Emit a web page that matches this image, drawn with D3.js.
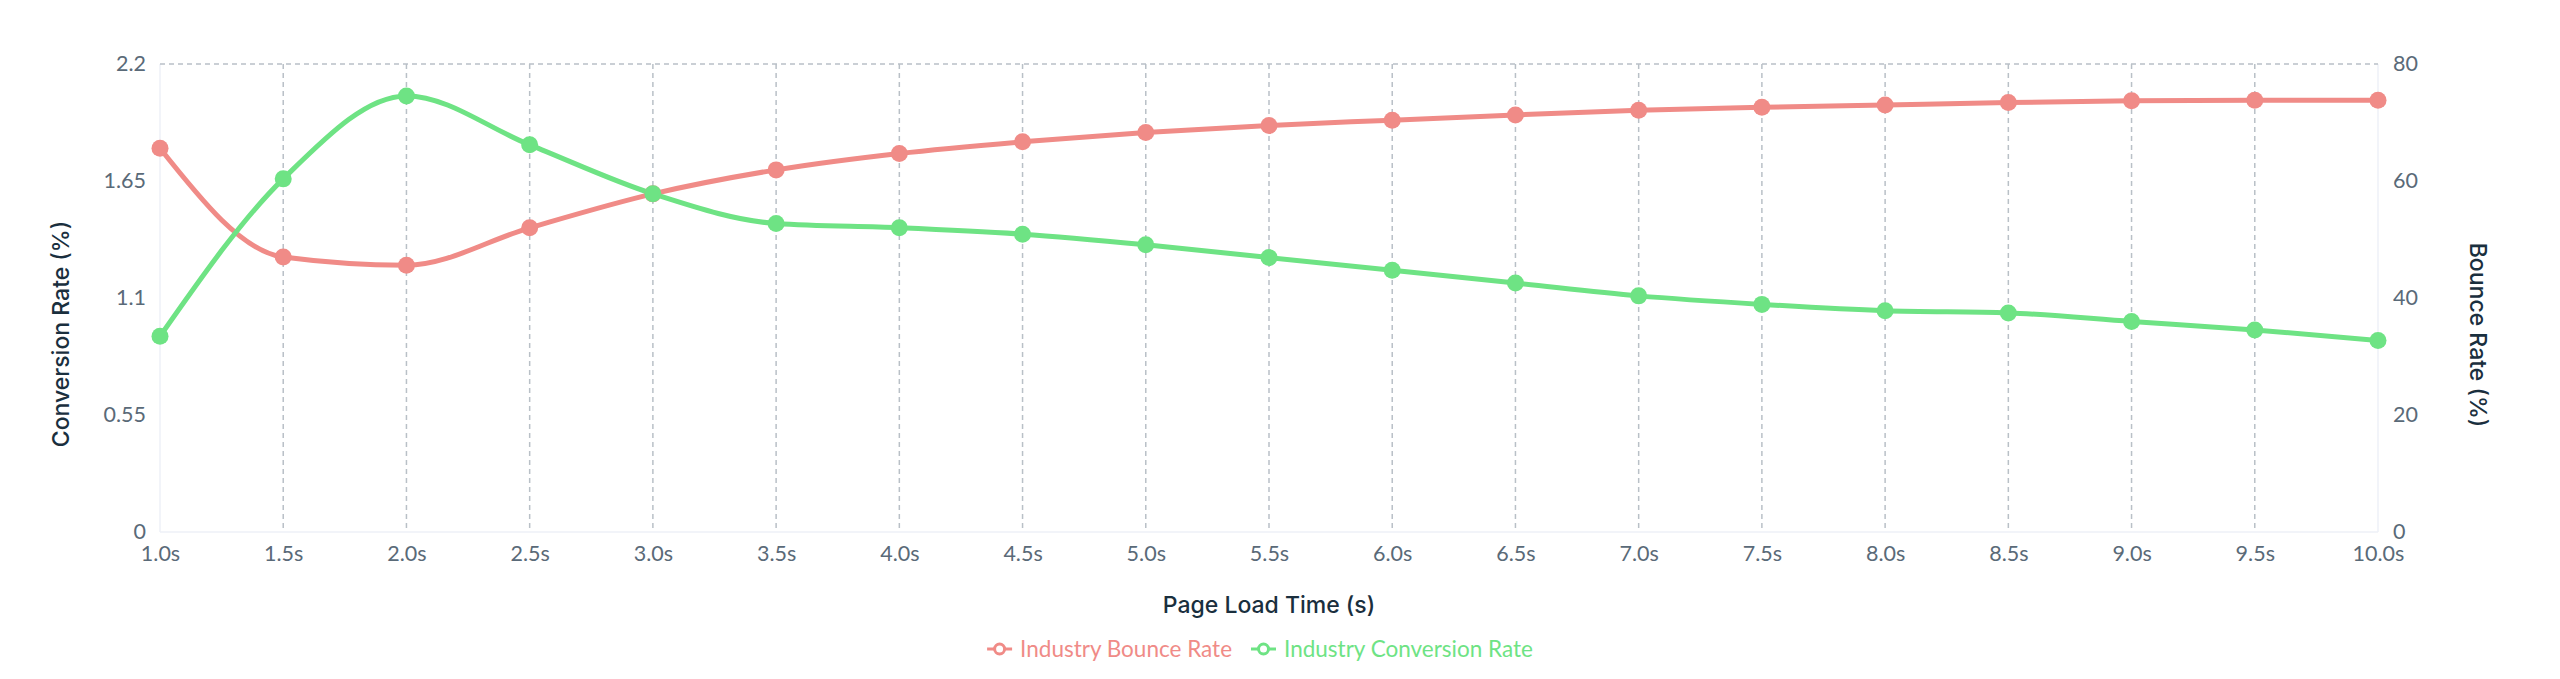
<!DOCTYPE html>
<html><head><meta charset="utf-8">
<script src="https://cdn.jsdelivr.net/npm/d3@7/dist/d3.min.js"></script>
<style>
body{margin:0;background:#fff}
svg{display:block}
</style>
</head><body>
<svg id="chart" width="2560" height="679" font-family="Lato, 'Open Sans', sans-serif"></svg>
<script>
// ---- data ----
const categories = ["1.0s","1.5s","2.0s","2.5s","3.0s","3.5s","4.0s","4.5s","5.0s","5.5s","6.0s","6.5s","7.0s","7.5s","8.0s","8.5s","9.0s","9.5s","10.0s"];
const bounceRate = [65.6, 47.0, 45.6, 52.0, 57.8, 61.9, 64.7, 66.7, 68.3, 69.5, 70.4, 71.3, 72.1, 72.6, 73.0, 73.4, 73.7, 73.8, 73.8];
const conversionRate = [0.92, 1.66, 2.05, 1.82, 1.59, 1.45, 1.43, 1.40, 1.35, 1.29, 1.23, 1.17, 1.11, 1.07, 1.04, 1.03, 0.99, 0.95, 0.90];
const leftTicks = [0, 0.55, 1.1, 1.65, 2.2];
const rightTicks = [0, 20, 40, 60, 80];
const seriesNames = ["Industry Bounce Rate", "Industry Conversion Rate"];
const axisTitles = {x: "Page Load Time (s)", left: "Conversion Rate (%)", right: "Bounce Rate (%)"};

// ---- layout ----
const M = {left: 160, right: 2378, top: 64, bottom: 532};
const red = "#f08b87", green = "#6ee384";
const tickColor = "#5a6a78", titleColor = "#1a2f3e", gridColor = "#b9c0c7", axisLine = "#eef0f7";

const svg = d3.select("#chart");

const x = d3.scalePoint().domain(categories).range([M.left, M.right]);
const yL = d3.scaleLinear().domain([0, 2.2]).range([M.bottom, M.top]);
const yR = d3.scaleLinear().domain([0, 80]).range([M.bottom, M.top]);

// faint axis lines
svg.append("line").attr("x1", M.left).attr("x2", M.left).attr("y1", M.top).attr("y2", M.bottom).attr("stroke", axisLine).attr("stroke-width", 1.5);
svg.append("line").attr("x1", M.right).attr("x2", M.right).attr("y1", M.top).attr("y2", M.bottom).attr("stroke", axisLine).attr("stroke-width", 1.5);
svg.append("line").attr("x1", M.left).attr("x2", M.right).attr("y1", M.bottom).attr("y2", M.bottom).attr("stroke", axisLine).attr("stroke-width", 1.5);

// dashed grid
const grid = svg.append("g").attr("stroke", gridColor).attr("stroke-width", 1.5).attr("stroke-dasharray", "5,4");
grid.selectAll("line.v").data(categories.slice(1, -1)).join("line")
  .attr("x1", d => x(d)).attr("x2", d => x(d))
  .attr("y1", M.top).attr("y2", M.bottom);
grid.append("line").attr("x1", M.left).attr("x2", M.right).attr("y1", yL(2.2)).attr("y2", yL(2.2));

// axes
function styleAxis(g){
  g.attr("font-family", null).attr("font-size", null);
  g.select(".domain").remove();
  g.selectAll(".tick line").remove();
  g.selectAll("text").attr("fill", tickColor).style("font-size", "21.5px").style("font-family", "Lato, sans-serif");
}
svg.append("g").attr("transform", `translate(${M.left},0)`)
  .call(d3.axisLeft(yL).tickValues(leftTicks).tickSize(0).tickPadding(14).tickFormat(d => String(d)))
  .call(styleAxis);
svg.append("g").attr("transform", `translate(${M.right},0)`)
  .call(d3.axisRight(yR).tickValues(rightTicks).tickSize(0).tickPadding(15).tickFormat(d => String(d)))
  .call(styleAxis);
svg.append("g").attr("transform", `translate(0,${M.bottom})`)
  .call(d3.axisBottom(x).tickSize(0).tickPadding(14))
  .call(styleAxis);

// axis titles
function title(sel){
  sel.attr("text-anchor", "middle").attr("fill", titleColor)
    .style("font-family", "Inter, Lato, sans-serif").style("font-size", "23px").style("font-weight", 500);
}
svg.append("text").text(axisTitles.x).attr("x", (M.left + M.right) / 2).attr("y", 613).call(title);
svg.append("text").text(axisTitles.left).attr("transform", "translate(69,334) rotate(-90)").call(title);
svg.append("text").text(axisTitles.right).attr("transform", "translate(2470,335) rotate(90)").call(title);

// lines
const series = [
  {name: seriesNames[0], values: bounceRate, y: yR, color: red},
  {name: seriesNames[1], values: conversionRate, y: yL, color: green}
];
series.forEach(s => {
  const line = d3.line().x((d, i) => x(categories[i])).y(d => s.y(d)).curve(d3.curveMonotoneX);
  svg.append("path").datum(s.values).attr("d", line).attr("fill", "none")
    .attr("stroke", s.color).attr("stroke-width", 5).attr("stroke-linejoin", "round");
});
series.forEach(s => {
  svg.append("g").selectAll("circle").data(s.values).join("circle")
    .attr("cx", (d, i) => x(categories[i])).attr("cy", d => s.y(d)).attr("r", 8.5).attr("fill", s.color);
});

// legend
const legend = svg.append("g");
const items = series.map(s => {
  const g = legend.append("g");
  g.append("line").attr("x1", 0).attr("x2", 25).attr("y1", 0).attr("y2", 0).attr("stroke", s.color).attr("stroke-width", 3);
  g.append("circle").attr("cx", 12.5).attr("cy", 0).attr("r", 5).attr("fill", "#fff").attr("stroke", s.color).attr("stroke-width", 3);
  const t = g.append("text").text(s.name).attr("x", 33).attr("y", 0).attr("dy", "0.35em")
    .style("font-family", "Lato, sans-serif").style("font-size", "22.5px").attr("fill", s.color);
  const w = 33 + t.node().getComputedTextLength();
  return {g, w};
});
const gap = 19;
const total = items.reduce((a, b) => a + b.w, 0) + gap * (items.length - 1);
let cx = 1260 - total / 2;
items.forEach(it => { it.g.attr("transform", `translate(${cx},649)`); cx += it.w + gap; });
</script>
</body></html>
